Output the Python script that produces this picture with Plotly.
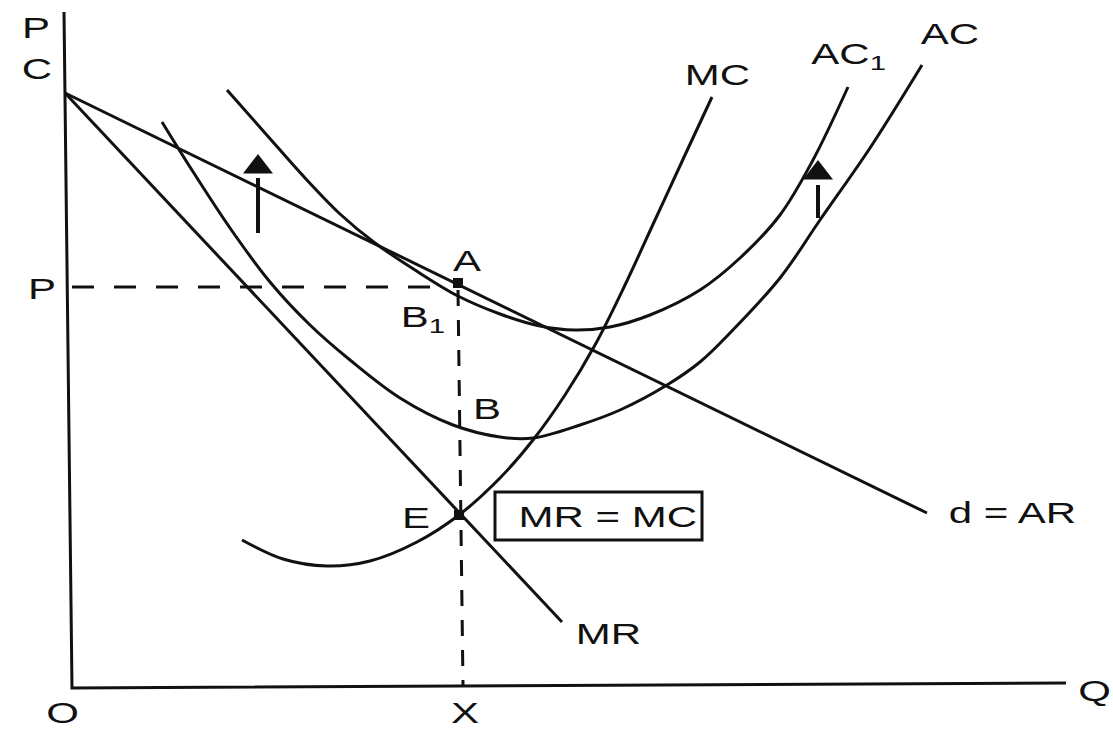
import plotly.graph_objects as go

# ---- data (drawing units: x to the right, y downward) ----
axis_x = [64, 72, 1066]
axis_y = [12, 688, 683]

ar_x = [65, 927]
ar_y = [93, 513]

mr_x = [65, 562]
mr_y = [93, 622]

mc_x = [242, 283, 327, 370, 417, 459, 500, 533, 565, 595, 625, 655, 685, 712]
mc_y = [540, 559, 566, 561, 542, 515, 478, 440, 395, 345, 285, 220, 155, 97]

ac_x = [162, 190, 230, 270, 310, 350, 400, 453, 500, 533, 580, 620, 667, 700, 730, 780, 820, 870, 922]
ac_y = [122, 167, 228, 282, 325, 360, 398, 425, 437, 438, 425, 410, 385, 362, 333, 278, 220, 148, 65]

ac1_x = [227, 265, 305, 340, 375, 415, 458, 500, 540, 575, 610, 650, 700, 740, 780, 813, 848]
ac1_y = [90, 133, 178, 214, 243, 270, 296, 314, 326, 330, 327, 315, 290, 258, 215, 160, 87]

hdash_x = [72, 440]
hdash_y = [287, 287]
vdash_x = [458, 463]
vdash_y = [290, 686]

pts_x = [458, 459]
pts_y = [283, 515]

arrow_x = [258, 818]
arrow_tail_y = [233, 218]
arrow_base_y = [178, 185]
arrow_head_y = [167, 173]

box_x = [495, 702]
box_y = [492, 540]

label_text = ["P", "C", "P", "O", "X", "Q", "A", "B<sub>1</sub>", "B", "E",
              "MR = MC", "MR", "d = AR", "MC", "AC<sub>1</sub>", "AC"]
label_x = [36, 37, 42, 62, 465, 1094, 467, 423, 487, 416, 608, 608, 1012, 717, 848, 950]
label_y = [27, 68, 288, 712, 712, 690, 260, 318, 408, 517, 516, 633, 512, 74, 55, 33]

# ---- figure ----
fig = go.Figure()
black = "#111111"
LW = 3

def line(x, y, dash="solid", shape="linear", w=LW):
    fig.add_trace(go.Scatter(x=x, y=y, mode="lines", hoverinfo="skip",
                             line=dict(color=black, width=w, dash=dash, shape=shape)))

line(axis_x, axis_y, w=3)
line(ar_x, ar_y)
line(mr_x, mr_y)
line(mc_x, mc_y, shape="spline")
line(ac_x, ac_y, shape="spline")
line(ac1_x, ac1_y, shape="spline")
line(hdash_x, hdash_y, dash="22px,20px")
line(vdash_x, vdash_y, dash="16px,14px")

for ax_, ty, by in zip(arrow_x, arrow_tail_y, arrow_base_y):
    line([ax_, ax_], [ty, by], w=4)
fig.add_trace(go.Scatter(x=arrow_x, y=arrow_head_y, mode="markers", hoverinfo="skip",
                         marker=dict(symbol="triangle-up", size=26, color=black)))

fig.add_trace(go.Scatter(x=pts_x, y=pts_y, mode="markers", hoverinfo="skip",
                         marker=dict(symbol="square", size=10, color=black)))

fig.add_shape(type="rect", x0=box_x[0], x1=box_x[1], y0=box_y[0], y1=box_y[1],
              xref="x", yref="y", line=dict(color=black, width=3))

for t, x, y in zip(label_text, label_x, label_y):
    fig.add_annotation(x=x, y=y, text=t, showarrow=False, xref="x", yref="y",
                       font=dict(family="Liberation Sans, Arial, sans-serif", size=30, color=black),
                       xanchor="center", yanchor="middle")

fig.update_layout(
    width=1113, height=730,
    margin=dict(l=0, r=0, t=0, b=0),
    paper_bgcolor="white", plot_bgcolor="white",
    showlegend=False,
    xaxis=dict(range=[0, 1113], visible=False, fixedrange=True),
    yaxis=dict(range=[730, 0], visible=False, fixedrange=True),
)

# remove page margin and widen the lettering like the scanned original
post = """
document.body.style.margin='0';
document.body.style.overflow='hidden';
document.querySelectorAll('.annotation-text').forEach(function(t){
  var b = t.getBBox(); var cx = b.x + b.width/2;
  t.setAttribute('transform', 'translate('+cx+',0) scale(1.4,1) translate('+(-cx)+',0)');
});
"""
fig.write_html("out.html", post_script=post, config={"displayModeBar": False})
